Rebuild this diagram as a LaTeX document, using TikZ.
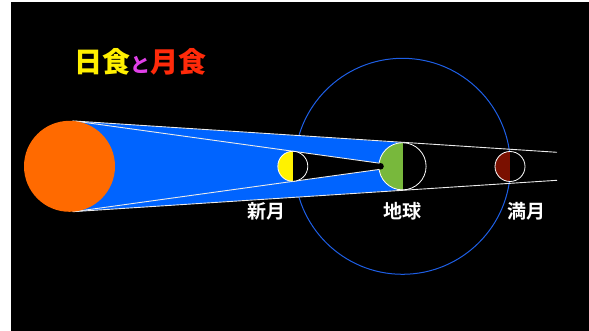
\documentclass[tikz,border=0pt]{standalone}
\usepackage{fontspec}
\usepackage{tikz}
\newfontfamily\jpbold{Noto Sans CJK JP Bold}
\newfontfamily\jpblack{Noto Sans CJK JP Black}
\definecolor{sunorange}{HTML}{FF6A00}
\definecolor{shadowblue}{HTML}{0064FF}
\definecolor{orbitblue}{HTML}{1E5FE6}
\definecolor{earthgreen}{HTML}{78B83C}
\definecolor{moonred}{HTML}{7A1000}
\definecolor{titleyellow}{HTML}{FFF000}
\definecolor{titlepink}{HTML}{E040E8}
\definecolor{titlered}{HTML}{FF2A0A}
\definecolor{raywhite}{HTML}{EBEBEB}

\tikzset{
  body/.style n args={2}{circle,inner sep=0pt,minimum size=#1,fill=black,
    draw=white,line width=0.8pt,
    path picture={\fill[#2] (path picture bounding box.north west) rectangle (path picture bounding box.south);}},
  ray/.style={draw=raywhite,line width=0.9pt},
  tag/.style={text=white,inner sep=0pt,font=\jpbold\fontsize{19}{19}\selectfont}
}

\begin{document}
\begin{tikzpicture}[x=1pt,y=-1pt]
  \useasboundingbox (0,0) rectangle (589,331);
  \fill[white] (0,0) rectangle (589,331);
  \fill[black] (11,2) rectangle (589,331);
  % tangent points of the rays
  \coordinate (earthC) at (402.5,166.3);
  \coordinate (outerTopS) at (72.5,120.9);
  \coordinate (outerTopE) at (557,152.3);
  \coordinate (outerBotS) at (72.5,211.7);
  \coordinate (outerBotE) at (557,180.3);
  \coordinate (innerTopS) at (75.7,121.2);
  \coordinate (innerTopE) at (379.5,163.2);
  \coordinate (innerBotS) at (75.7,211.4);
  \coordinate (innerBotE) at (379.5,169.4);
  \coordinate (earthTop) at (404,142.7);
  \coordinate (earthBot) at (404,189.9);
  \coordinate (newTop) at (294.8,151.4);
  \coordinate (newBot) at (294.8,181.2);
  % moon orbit
  \draw[orbitblue,line width=1pt] (earthC) circle[radius=108];
  % sunlight reaching the earth
  \fill[shadowblue] (outerTopS) -- (earthTop) -- (earthC) -- (earthBot) -- (outerBotS) -- cycle;
  % shadow of the new moon
  \fill[black] (292.8,166.3) -- (newTop) -- (innerTopE) -- (innerBotE) -- (newBot) -- cycle;
  \draw[ray] (outerTopS) -- (outerTopE);
  \draw[ray] (outerBotS) -- (outerBotE);
  \draw[ray] (innerTopS) -- (innerTopE);
  \draw[ray] (innerBotS) -- (innerBotE);
  % sun, earth and moons
  \node[circle,inner sep=0pt,minimum size=91pt,fill=sunorange] (sun) at (69.5,166.3) {};
  \node[body={47.2pt}{earthgreen}] (earth) at (earthC) {};
  \node[body={30pt}{yellow}] (newmoon) at (292.8,166.3) {};
  \node[body={30pt}{moonred}] (fullmoon) at (510,166.5) {};
  \fill[black] (380.5,166.3) circle[radius=3.3];
  % labels
  \node[tag] (newlbl) at (266.5,211.5) {新月};
  \node[tag] (earthlbl) at (402.5,211.5) {地球};
  \node[tag] (fulllbl) at (526,211.5) {満月};
  \node[anchor=base west,inner sep=0pt,font=\jpblack\fontsize{28}{28}\selectfont] (title) at (74,72.5)
    {\textcolor{titleyellow}{日食}\textcolor{titlepink}{\fontsize{20}{20}\selectfont と}\textcolor{titlered}{月食}};
\end{tikzpicture}
\end{document}
